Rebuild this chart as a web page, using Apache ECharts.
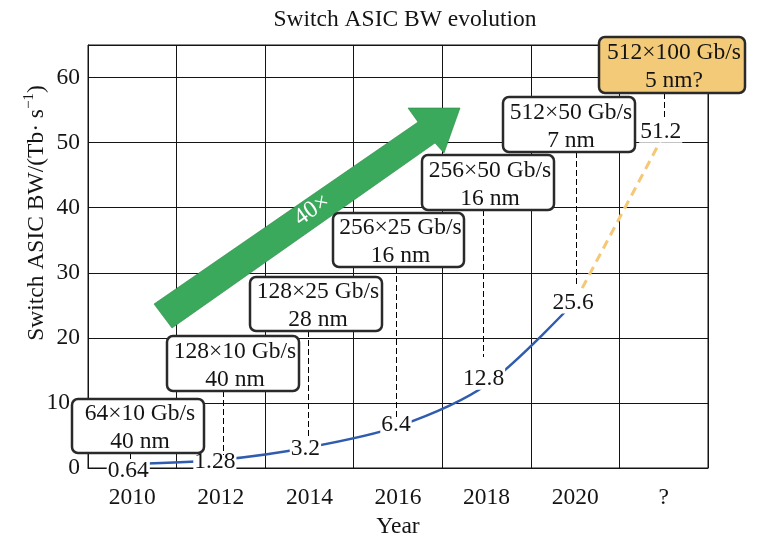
<!DOCTYPE html>
<html><head><meta charset="utf-8">
<script src="https://cdn.jsdelivr.net/npm/echarts@6/dist/echarts.min.js"></script>
<style>html,body{margin:0;padding:0;background:#fff}#c{width:770px;height:548px}</style>
</head><body><div id="c"></div>
<script>
// ---- data ----
const years = ['2010', '2012', '2014', '2016', '2018', '2020', '?'];
const bandwidth = [0.64, 1.28, 3.2, 6.4, 12.8, 25.6, 51.2];
const lastMeasured = 5; // index of last actual chip (2020)
const chipLabels = ['64×10 Gb/s', '128×10 Gb/s', '128×25 Gb/s', '256×25 Gb/s', '256×50 Gb/s', '512×50 Gb/s', '512×100 Gb/s'];
const processNodes = ['40 nm', '40 nm', '28 nm', '16 nm', '16 nm', '7 nm', '5 nm?'];

// ---- styles / layout (not data) ----
const FONT = '"Liberation Serif","Times New Roman",serif';
const FS = 23.5;
const INK = '#141414';
const labelOffsets = [[-4, 7], [-6, 2], [-4, 2], [-2, -2], [-3, -6], [-2, 1], [-3, -3]];
const boxGeom = [[72, 399, 132, 54], [167, 336, 132, 55], [250, 277, 132, 54], [333, 213, 131, 54], [422, 155, 132, 55], [503, 97, 132, 55], [599, 37, 146, 56]];
const dashGeom = [[130, 453, 462], [223, 391, 455], [308, 331, 437], [396, 267, 417], [483, 210, 357], [576, 152, 285], [664, 93, 119]];

const chart = echarts.init(document.getElementById('c'), null, {renderer: 'canvas'});

const actual = bandwidth.map((v, i) => i <= lastMeasured ? v : null);
const projected = bandwidth.map((v, i) => i >= lastMeasured ? v : null);

const graphics = [];
// y axis name with superscript
graphics.push({
  type: 'text', x: 37, y: 213, rotation: Math.PI / 2, z: 50,
  style: {
    text: '{a|Switch ASIC BW/(Tb· s}{b|−1}{a|)}',
    align: 'center', verticalAlign: 'middle', fill: INK,
    rich: {
      a: {fontSize: FS, fontFamily: FONT, lineHeight: 30, fill: INK, verticalAlign: 'middle'},
      b: {fontSize: 15, fontFamily: FONT, lineHeight: 15, fill: INK, verticalAlign: 'top'}
    }
  }
});
// arrow
graphics.push({
  type: 'polygon', z: 40,
  shape: {points: [[172, 328], [154, 304], [418, 122], [408, 108], [460, 108], [444, 153], [435, 143]]},
  style: {fill: '#3aa95b', stroke: '#2c8a48', lineWidth: 0.6}
});
graphics.push({
  type: 'text', x: 312, y: 210, rotation: 35 * Math.PI / 180, z: 41,
  style: {text: '40×', fontSize: 24, fontFamily: FONT, fill: '#ffffff', align: 'center', verticalAlign: 'middle'}
});
// dashed leader lines
dashGeom.forEach(d => {
  graphics.push({
    type: 'line', z: 42,
    shape: {x1: d[0] + 0.5, y1: d[1], x2: d[0] + 0.5, y2: d[2]},
    style: {stroke: '#000000', lineWidth: 1, lineDash: [6, 3]}
  });
});
// boxes
boxGeom.forEach((b, i) => {
  graphics.push({
    type: 'rect', z: 44,
    shape: {x: b[0], y: b[1], width: b[2], height: b[3], r: 6},
    style: {fill: i === boxGeom.length - 1 ? '#f3ca78' : '#ffffff', stroke: '#2a2a2a', lineWidth: 2.5}
  });
  graphics.push({
    type: 'text', z: 45, x: b[0] + b[2] / 2 + 2, y: b[1] + b[3] / 2 + 2,
    style: {text: chipLabels[i] + '\n' + processNodes[i], fontSize: FS, fontFamily: FONT, fill: INK,
      align: 'center', verticalAlign: 'middle', lineHeight: 28}
  });
});

chart.setOption({
  animation: false,
  backgroundColor: '#ffffff',
  title: {
    text: 'Switch ASIC BW evolution', left: 400, top: 3, textAlign: 'center',
    textStyle: {fontSize: FS, fontWeight: 'normal', fontFamily: FONT, color: INK}
  },
  grid: {left: 88, right: 62, top: 45, bottom: 80, show: true, borderColor: INK, borderWidth: 1, backgroundColor: 'transparent'},
  xAxis: {
    type: 'category', data: years, boundaryGap: true,
    name: 'Year', nameLocation: 'middle', nameGap: 43,
    nameTextStyle: {fontSize: FS, fontFamily: FONT, color: INK},
    axisLine: {lineStyle: {color: INK, width: 1}},
    axisTick: {show: false},
    axisLabel: {fontSize: FS, fontFamily: FONT, color: INK, margin: 18},
    splitLine: {show: true, lineStyle: {color: INK, width: 1}}
  },
  yAxis: {
    type: 'value', min: 0, max: 65, interval: 10,
    axisLine: {show: true, lineStyle: {color: INK, width: 1}},
    axisTick: {show: false},
    axisLabel: {
      fontSize: FS, fontFamily: FONT, color: INK, margin: 8, showMaxLabel: false,
      formatter: v => v === 10 ? '{s|10}' : String(v),
      rich: {s: {fontSize: FS, fontFamily: FONT, color: INK, padding: [0, 10, 0, 0]}}
    },
    splitLine: {show: true, lineStyle: {color: INK, width: 1}}
  },
  series: [
    {
      type: 'line', data: actual, smooth: 0.3, symbol: 'none', z: 3,
      lineStyle: {color: '#2f5cae', width: 2.5}
    },
    {
      type: 'line', data: projected, smooth: false, symbol: 'none', z: 3,
      lineStyle: {color: '#f5c878', width: 3, type: [9, 6]}
    },
    {
      type: 'scatter', z: 10, symbolSize: 1,
      itemStyle: {color: '#ffffff', opacity: 1},
      data: bandwidth.map((v, i) => ({
        value: v,
        label: {offset: labelOffsets[i]}
      })),
      label: {
        show: true, position: 'inside', formatter: p => String(p.value),
        fontSize: FS, fontFamily: FONT, color: INK, opacity: 1,
        textBorderWidth: 0,
        backgroundColor: '#ffffff', padding: [0, 1], lineHeight: 22
      }
    }
  ],
  graphic: graphics
});
</script></body></html>
